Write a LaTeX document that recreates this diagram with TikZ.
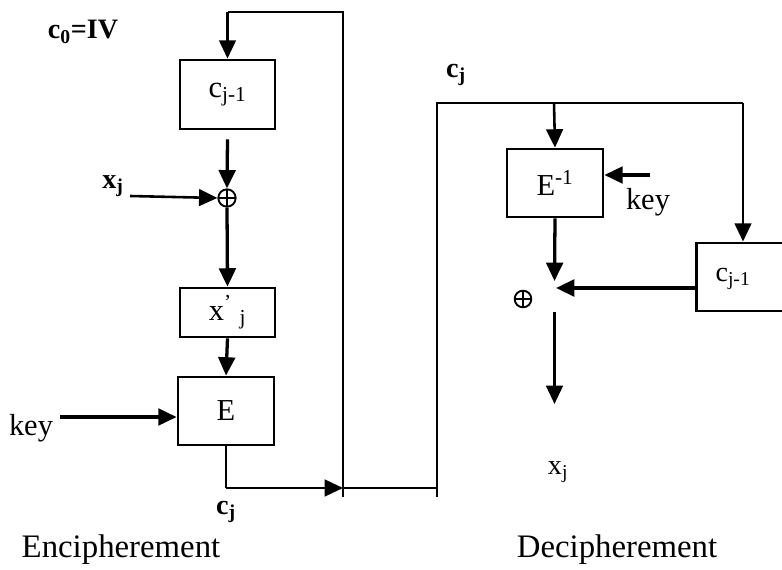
\documentclass[tikz,border=0pt]{standalone}
\usepackage{fontspec}
\setmainfont{Liberation Serif}
\usetikzlibrary{arrows.meta}
\begin{document}
\begin{tikzpicture}[x=0.03cm,y=-0.03cm,
  lbl/.style={inner sep=0pt, font=\fontsize{26}{30}\selectfont},
  ttl/.style={inner sep=0pt, font=\fontsize{28}{32}\selectfont},
  blk/.style={draw, line width=2.4pt, inner sep=0pt, font=\fontsize{26}{30}\selectfont},
  xorc/.style={circle, draw, line width=1.6pt, minimum size=0.52cm, inner sep=0pt,
    path picture={\draw[line width=1.6pt] (path picture bounding box.north) -- (path picture bounding box.south)
      (path picture bounding box.west) -- (path picture bounding box.east);}},
  arr/.style={line width=2.8pt, -{Triangle[length=0.55cm,width=0.5cm]}},
  ln/.style={line width=2.2pt},
  arrt/.style={line width=2.2pt, -{Triangle[length=0.55cm,width=0.5cm]}}]
\clip (0,0) rectangle (782,570);
\useasboundingbox (0,0) rectangle (782,570);
% ---------- Encipherement ----------
\node[lbl, font=\fontsize{24}{28}\selectfont\bfseries] (iv) at (83,32) {c\textsubscript{0}=IV};
\node[blk, minimum width=2.85cm, minimum height=2.07cm] (cL) at (227.5,94.5) {c\textsubscript{j-1}};
\node[xorc] (xL) at (227,198) {};
\node[lbl, font=\fontsize{24}{28}\selectfont\bfseries] (xjL) at (113,186) {x\textsubscript{j}};
\coordinate (xjs) at (130,196);
\node[blk, minimum width=2.85cm, minimum height=1.47cm] (xp) at (227.5,312.5) {x\textsuperscript{'}\hspace{0.25em}\textsubscript{j}};
\node[blk, minimum width=2.88cm, minimum height=2.04cm] (E) at (226,411) {E};
\node[lbl] (keyL) at (31,428) {key};
\coordinate (keys) at (60,417);
\node[lbl, font=\fontsize{24}{28}\selectfont\bfseries] (cjB) at (226,512) {c\textsubscript{j}};
\coordinate (eb) at (226,488);
\coordinate (j1) at (343,488);
\coordinate (j1b) at (343,497);
\coordinate (t1) at (343,12);
\coordinate (t0) at (227.5,12);
\node[ttl] (enc) at (121,550) {Encipherement};
% ---------- Decipherement ----------
\coordinate (j2) at (437,488);
\coordinate (j2b) at (437,497);
\coordinate (t2) at (437,103);
\coordinate (t3) at (743,103);
\coordinate (t4) at (554,103);
\node[lbl, font=\fontsize{24}{28}\selectfont\bfseries] (cjT) at (456,75) {c\textsubscript{j}};
\node[blk, minimum width=2.88cm, minimum height=2.04cm] (Ei) at (555,183) {E\textsuperscript{-1}};
\coordinate (kr) at (650,175);
\node[lbl] (keyR) at (648,202) {key};
\node[draw, line width=2.4pt, minimum width=3.3cm, minimum height=2.04cm, anchor=west] (cR) at (695,277) {};
\node[lbl, font=\fontsize{24}{28}\selectfont] (cRl) at (733,279) {c\textsubscript{j-1}};
\coordinate (m1) at (554.5,281);
\coordinate (m2) at (556,288);
\coordinate (cRw) at (695,288);
\node[xorc, minimum size=0.5cm] (xR) at (523,299) {};
\coordinate (o1) at (554.5,312);
\coordinate (o2) at (554.5,404);
\node[lbl, font=\fontsize{24}{28}\selectfont] (xjR) at (558,472) {x\textsubscript{j}};
\node[ttl] (dec) at (617,550) {Decipherement};
% ---------- connectors ----------
\draw[ln] (j1b) -- (t1) -- (t0);
\draw[arrt] (t0) -- (cL.north);
\draw[arr] (cL.south) ++(0,-0.27cm) -- (xL.north);
\draw[arrt] (xjs) -- (xL.west);
\draw[arr] (xL.south) -- (xp.north);
\draw[arr] (xp.south) -- (E.north);
\draw[arr] (keys) -- (keys -| E.west);
\draw[ln] (E.south) -- (eb);
\draw[arrt] (eb) -- (j1);
\draw[ln] (j1) -- (j2);
\draw[ln] (j2b) -- (t2) -- (t3);
\draw[arrt] (t4) -- (Ei.north);
\draw[arrt] (t3) -- (cR.north -| t3);
\draw[arr] (kr) -- (kr -| Ei.east);
\draw[arr] (Ei.south) -- (m1);
\draw[arr] (cRw) -- (m2);
\draw[arrt] (o1) -- (o2);
\end{tikzpicture}
\end{document}
